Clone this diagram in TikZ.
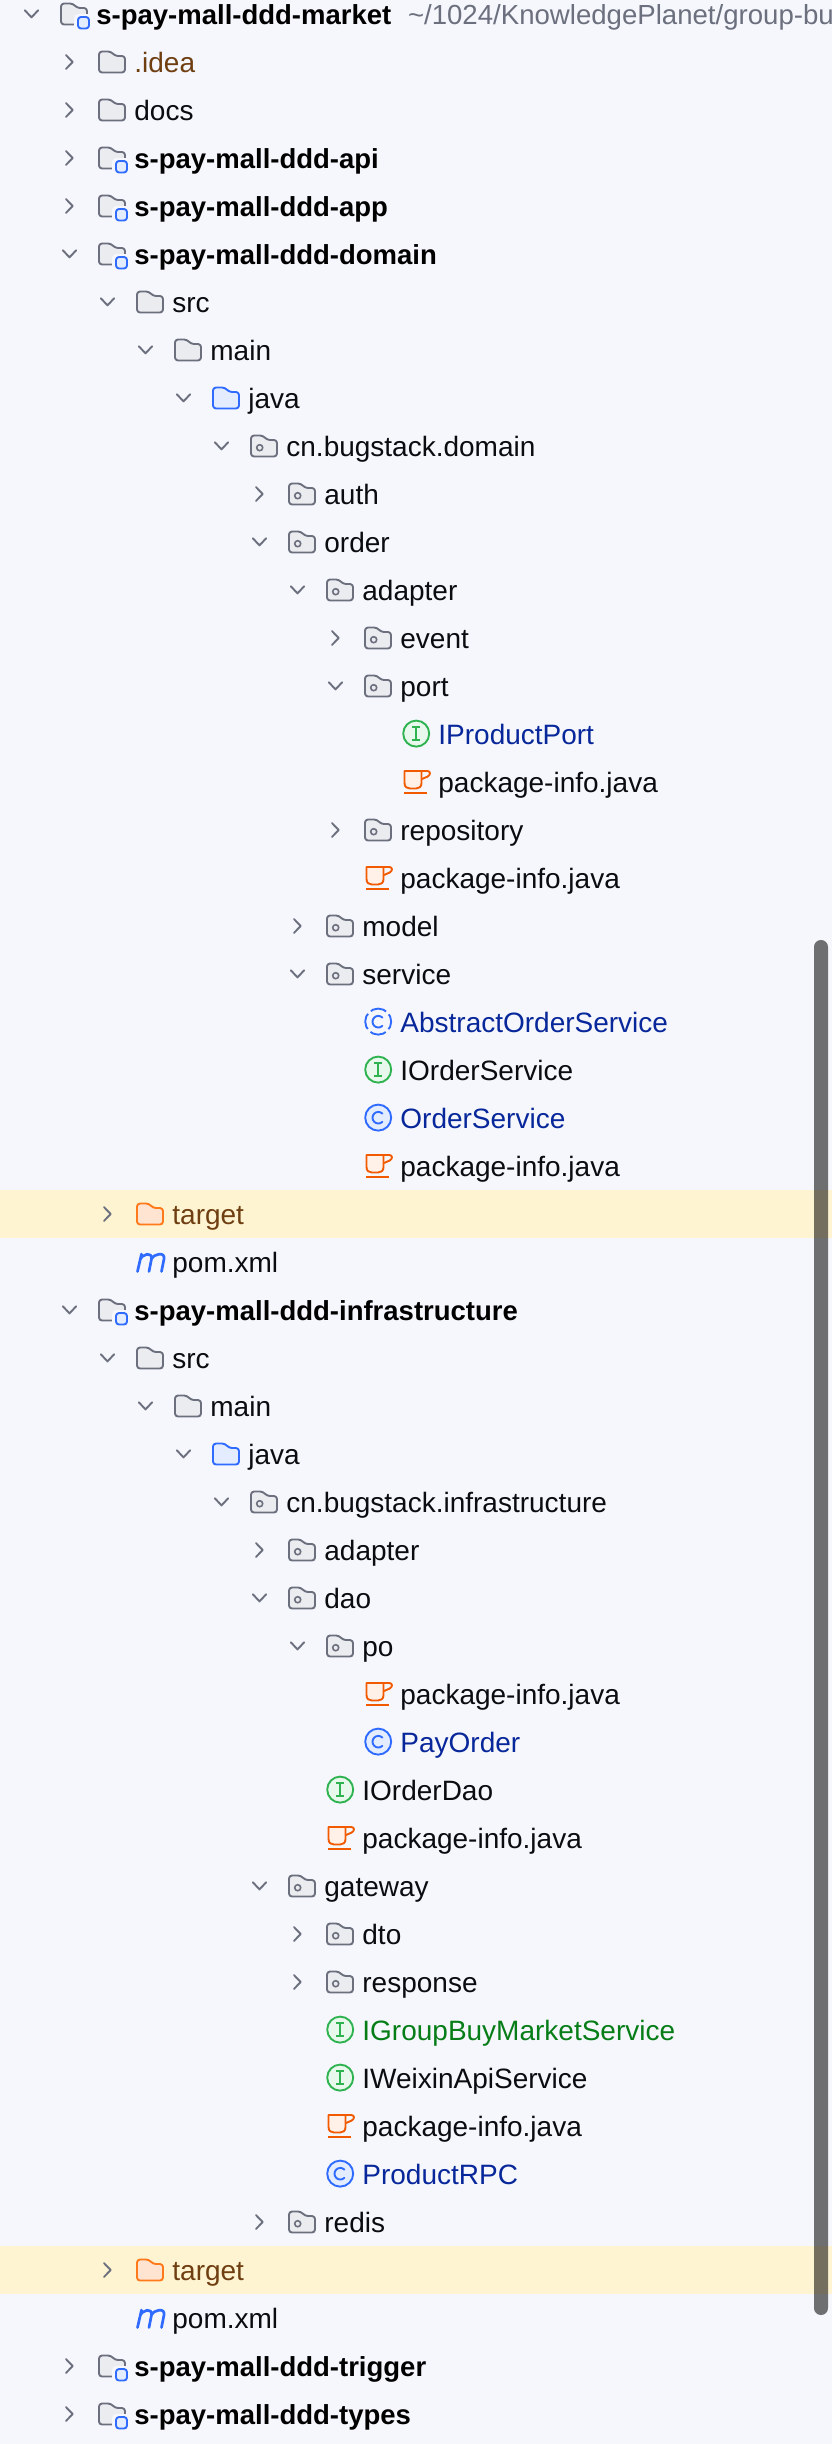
\documentclass[tikz,border=0pt]{standalone}
\usepackage{fontspec}
\setmainfont{Liberation Sans}
\definecolor{bgc}{HTML}{F5F7FC}
\definecolor{hl}{HTML}{FFF4D2}
\definecolor{greyc}{HTML}{6C707E}
\definecolor{foldf}{HTML}{EBECF0}
\definecolor{bluec}{HTML}{2F6BFF}
\definecolor{bluef}{HTML}{E3EDFF}
\definecolor{greenc}{HTML}{2FB350}
\definecolor{greenf}{HTML}{E9F8EC}
\definecolor{cupc}{HTML}{F25A00}
\definecolor{cupf}{HTML}{FFF1E8}
\definecolor{orangec}{HTML}{FF7A1A}
\definecolor{orangef}{HTML}{FFE4D2}
\definecolor{navy}{HTML}{08279A}
\definecolor{brownc}{HTML}{6F3F12}
\definecolor{greent}{HTML}{067D17}
\definecolor{inkc}{HTML}{0A0C10}
\tikzset{
  x=1pt,y=-1pt,
  rowtext/.style={anchor=base west,inner sep=0pt,outer sep=0pt,font=\fontsize{28}{30}\selectfont,text=inkc},
  boldtext/.style={rowtext,font=\fontsize{27.5}{30}\selectfont\bfseries,text=black},
  pathtext/.style={rowtext,font=\fontsize{27.6}{30}\selectfont,text=greyc},
  chev/.style={draw=greyc,line width=1.9pt,line cap=round,line join=round},
  ico/.style={line width=1.9pt,line join=round},
}
\newcommand{\ifold}[2]{%
  \draw[ico,draw=#1,fill=#2,rounded corners=3pt] (1,9.5) -- (1,-11.5) -- (13,-11.5) -- (17,-7) -- (27,-7) -- (27,9.5) -- cycle;}
\newcommand{\iplain}{\ifold{greyc}{foldf}}
\newcommand{\ipkg}{\iplain\draw[draw=greyc,line width=1.6pt] (9.7,0.7) circle (3);}
\newcommand{\iblue}{\ifold{bluec}{bluef}}
\newcommand{\iorange}{\ifold{orangec}{orangef}}
\newcommand{\iproj}{\iplain
  \fill[bgc,rounded corners=4pt] (14,-1) rectangle (33,18);
  \draw[ico,draw=bluec,fill=bluef,rounded corners=3pt] (18,2) rectangle (29,13.5);}
\newcommand{\iint}[1]{%
  \draw[ico,draw=greenc,fill=#1] (14.2,-1.4) circle (13);
  \draw[draw=greenc,line width=1.9pt] (14.2,-7.6) -- (14.2,4.8) (10.4,-7.6) -- (18,-7.6) (10.4,4.8) -- (18,4.8);}
\newcommand{\iclsC}{\draw[draw=bluec,line width=1.9pt,line cap=round] (18.4,-5.4) arc (45:315:5.8pt);}
\newcommand{\icls}{\draw[ico,draw=bluec,fill=bluef] (14.2,-1.4) circle (13);\iclsC}
\newcommand{\iabs}{\draw[ico,draw=bluec,dash pattern=on 16.4pt off 4pt,dash phase=8.2pt] (14.2,-1.4) circle (13);\iclsC}
\newcommand{\icup}{%
  \draw[ico,draw=cupc,rounded corners=2.5pt] (19,-12) -- (28,-12) -- (28,-7.5) -- (20,-4);
  \draw[ico,draw=cupc,fill=cupf] (2.5,-12) -- (2.5,0) .. controls (2.5,4) and (5,5.5) .. (8,5.5) -- (14,5.5) .. controls (17,5.5) and (19.5,4) .. (19.5,0) -- (19.5,-12) -- cycle;
  \draw[ico,draw=cupc] (2,9.8) -- (25,9.8);}
\newcommand{\ipom}{%
  \draw[draw=bluec,line width=2.7pt,line cap=round,line join=round]
    (1.5,8.5) -- (5.5,-9)
    (4,-3) .. controls (6.5,-9.5) and (16.5,-11.5) .. (15.5,-4) -- (13,8.5)
    (15.5,-4) .. controls (18,-9.5) and (29.5,-11.5) .. (28,-4) -- (25.5,8.5);}
\newcommand{\ichevc}{\draw[chev] (-32,-7.9) -- (-25.3,-1) -- (-32,5.9);}
\newcommand{\ichevo}{\draw[chev] (-35.2,-4.8) -- (-28.5,2.4) -- (-21.8,-4.8);}
% \rowitem{row}{level}{chevron}{icon}{style}{text}
\newcommand{\rowitem}[6]{%
  \pgfmathsetmacro{\rowy}{15+48*#1}
  \pgfmathsetmacro{\rowx}{60+38*#2}
  \begin{scope}[shift={(\rowx pt,-\rowy pt)}]
    #3 #4
    \node[#5] (t#1) at (36.4,9.2) {#6};
  \end{scope}}
\begin{document}
\begin{tikzpicture}
\useasboundingbox (0,0) rectangle (832,2444);
\fill[bgc] (0,0) rectangle (832,2444);
\fill[hl] (0,1190) rectangle (832,1238);
\fill[hl] (0,2246) rectangle (832,2294);
\rowitem{0}{0}{\ichevo}{\iproj}{boldtext}{s-pay-mall-ddd-market}
\node[pathtext] (path) at (408,24.2) {\textasciitilde/1024/KnowledgePlanet/group-bu};
\rowitem{1}{1}{\ichevc}{\iplain}{rowtext,text=brownc}{.idea}
\rowitem{2}{1}{\ichevc}{\iplain}{rowtext}{docs}
\rowitem{3}{1}{\ichevc}{\iproj}{boldtext}{s-pay-mall-ddd-api}
\rowitem{4}{1}{\ichevc}{\iproj}{boldtext}{s-pay-mall-ddd-app}
\rowitem{5}{1}{\ichevo}{\iproj}{boldtext}{s-pay-mall-ddd-domain}
\rowitem{6}{2}{\ichevo}{\iplain}{rowtext}{src}
\rowitem{7}{3}{\ichevo}{\iplain}{rowtext}{main}
\rowitem{8}{4}{\ichevo}{\iblue}{rowtext}{java}
\rowitem{9}{5}{\ichevo}{\ipkg}{rowtext}{cn.bugstack.domain}
\rowitem{10}{6}{\ichevc}{\ipkg}{rowtext}{auth}
\rowitem{11}{6}{\ichevo}{\ipkg}{rowtext}{order}
\rowitem{12}{7}{\ichevo}{\ipkg}{rowtext}{adapter}
\rowitem{13}{8}{\ichevc}{\ipkg}{rowtext}{event}
\rowitem{14}{8}{\ichevo}{\ipkg}{rowtext}{port}
\rowitem{15}{9}{}{\iint{greenf}}{rowtext,text=navy}{IProductPort}
\rowitem{16}{9}{}{\icup}{rowtext}{package-info.java}
\rowitem{17}{8}{\ichevc}{\ipkg}{rowtext}{repository}
\rowitem{18}{8}{}{\icup}{rowtext}{package-info.java}
\rowitem{19}{7}{\ichevc}{\ipkg}{rowtext}{model}
\rowitem{20}{7}{\ichevo}{\ipkg}{rowtext}{service}
\rowitem{21}{8}{}{\iabs}{rowtext,text=navy}{AbstractOrderService}
\rowitem{22}{8}{}{\iint{greenf}}{rowtext}{IOrderService}
\rowitem{23}{8}{}{\icls}{rowtext,text=navy}{OrderService}
\rowitem{24}{8}{}{\icup}{rowtext}{package-info.java}
\rowitem{25}{2}{\ichevc}{\iorange}{rowtext,text=brownc}{target}
\rowitem{26}{2}{}{\ipom}{rowtext}{pom.xml}
\rowitem{27}{1}{\ichevo}{\iproj}{boldtext}{s-pay-mall-ddd-infrastructure}
\rowitem{28}{2}{\ichevo}{\iplain}{rowtext}{src}
\rowitem{29}{3}{\ichevo}{\iplain}{rowtext}{main}
\rowitem{30}{4}{\ichevo}{\iblue}{rowtext}{java}
\rowitem{31}{5}{\ichevo}{\ipkg}{rowtext}{cn.bugstack.infrastructure}
\rowitem{32}{6}{\ichevc}{\ipkg}{rowtext}{adapter}
\rowitem{33}{6}{\ichevo}{\ipkg}{rowtext}{dao}
\rowitem{34}{7}{\ichevo}{\ipkg}{rowtext}{po}
\rowitem{35}{8}{}{\icup}{rowtext}{package-info.java}
\rowitem{36}{8}{}{\icls}{rowtext,text=navy}{PayOrder}
\rowitem{37}{7}{}{\iint{greenf}}{rowtext}{IOrderDao}
\rowitem{38}{7}{}{\icup}{rowtext}{package-info.java}
\rowitem{39}{6}{\ichevo}{\ipkg}{rowtext}{gateway}
\rowitem{40}{7}{\ichevc}{\ipkg}{rowtext}{dto}
\rowitem{41}{7}{\ichevc}{\ipkg}{rowtext}{response}
\rowitem{42}{7}{}{\iint{greenf}}{rowtext,text=greent}{IGroupBuyMarketService}
\rowitem{43}{7}{}{\iint{greenf}}{rowtext}{IWeixinApiService}
\rowitem{44}{7}{}{\icup}{rowtext}{package-info.java}
\rowitem{45}{7}{}{\icls}{rowtext,text=navy}{ProductRPC}
\rowitem{46}{6}{\ichevc}{\ipkg}{rowtext}{redis}
\rowitem{47}{2}{\ichevc}{\iorange}{rowtext,text=brownc}{target}
\rowitem{48}{2}{}{\ipom}{rowtext}{pom.xml}
\rowitem{49}{1}{\ichevc}{\iproj}{boldtext}{s-pay-mall-ddd-trigger}
\rowitem{50}{1}{\ichevc}{\iproj}{boldtext}{s-pay-mall-ddd-types}
\fill[black,fill opacity=.55,rounded corners=6.9pt] (814,940) rectangle (828,2315);
\end{tikzpicture}
\end{document}
